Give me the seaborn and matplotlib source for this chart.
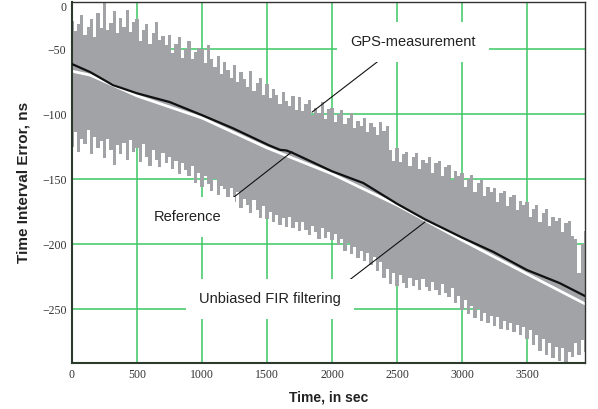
import numpy as np
import matplotlib
matplotlib.use("Agg")
import matplotlib.pyplot as plt
import seaborn as sns

# ---- data ----
# GPS measurement band: spike envelope every 25 s
env_t = np.arange(0, 3951, 25)
gps_upper = [
    -28, -36, -31, -24, -39, -33, -27, -41, -22, -34,
    -14, -35, -30, -21, -38, -26, -33, -20, -37, -29,
    -27, -44, -35, -31, -46, -38, -29, -43, -40, -47,
    -39, -53, -46, -41, -57, -50, -44, -58, -52, -49,
    -50, -61, -47, -58, -64, -55, -69, -60, -66, -72,
    -62, -75, -68, -73, -79, -67, -82, -76, -72, -85,
    -77, -88, -81, -85, -92, -83, -90, -94, -86, -97,
    -87, -98, -92, -89, -101, -95, -99, -91, -104, -96,
    -95, -106, -100, -97, -108, -103, -99, -111, -105, -109,
    -103, -114, -107, -110, -116, -106, -113, -109, -128, -136,
    -126, -137, -131, -129, -140, -133, -130, -142, -135, -138,
    -133, -145, -138, -136, -148, -141, -139, -151, -144, -148,
    -145, -156, -150, -147, -160, -153, -151, -163, -156, -160,
    -157, -168, -161, -159, -171, -164, -162, -174, -167, -170,
    -168, -179, -173, -170, -183, -176, -173, -186, -179, -182,
    -180, -191, -184, -182, -194, -196, -222, -200, -190,
]
gps_lower = [
    -125, -114, -129, -119, -123, -112, -131, -118, -126, -121,
    -134, -119, -128, -139, -124, -131, -122, -135, -120, -129,
    -126, -137, -123, -133, -140, -128, -135, -141, -130, -138,
    -133, -142, -136, -146, -138, -143, -148, -140, -153, -145,
    -156, -148, -154, -159, -150, -162, -155, -158, -166, -157,
    -168, -160, -172, -165, -170, -176, -166, -174, -180, -171,
    -181, -175, -183, -178, -185, -180, -187, -179, -188, -183,
    -190, -183, -189, -193, -186, -191, -196, -188, -195, -191,
    -197, -192, -201, -196, -205, -199, -208, -202, -211, -205,
    -213, -207, -216, -210, -221, -214, -226, -219, -231, -222,
    -232, -224, -230, -234, -226, -232, -228, -235, -227, -233,
    -236, -229, -235, -239, -231, -238, -241, -234, -245, -240,
    -251, -243, -254, -248, -257, -250, -259, -253, -261, -255,
    -263, -256, -265, -259, -266, -261, -268, -262, -270, -264,
    -273, -266, -278, -270, -282, -273, -285, -276, -288, -279,
    -290, -280, -292, -283, -287, -276, -285, -274, -283,
]

# unbiased FIR filtering estimate (black)
fir_t = [0, 140, 315, 500, 750, 1000, 1240, 1515, 1600, 1650, 1700,
         2000, 2240, 2500, 2715, 3000, 3240, 3500, 3750, 3946]
fir_v = [-61.5, -67.7, -77.7, -84, -90.7, -100.8, -111, -124, -127.5, -128, -130,
         -144, -153, -169, -181, -195, -206, -220, -230, -240]

# reference (white)
ref_t = [0, 140, 500, 1000, 1500, 2000, 2500, 3000, 3500, 3946]
ref_v = [-67, -70, -86, -103, -126, -146, -170, -197, -223, -246]

x_ticks = [0, 500, 1000, 1500, 2000, 2500, 3000, 3500]
y_ticks = [-17.5, -50, -100, -150, -200, -250]
y_labels = ["0", "\u221250", "\u2212100", "\u2212150", "\u2212200", "\u2212250"]

# ---- style ----
sns.set_theme(style="white")
plt.rcParams["font.family"] = ["Liberation Sans", "DejaVu Sans"]

grid_col = "#3cc864"
band_col = "#a2a3a7"
serif = ["Liberation Serif", "DejaVu Serif"]

fig = plt.figure(figsize=(5.98, 4.09), dpi=100)
ax = fig.add_axes([0.1204, 0.1125, 0.8579, 0.8825])

# grid lines drawn by hand (no line at the "0" label)
for xv in x_ticks[1:]:
    ax.axvline(xv, color=grid_col, lw=1.1, zorder=0)
for yv in y_ticks[1:]:
    ax.axhline(yv, color=grid_col, lw=1.1, zorder=0)

ax.fill_between(env_t, gps_lower, gps_upper, step="mid", color=band_col, lw=0, zorder=1)
sns.lineplot(x=ref_t, y=ref_v, color="white", lw=2.0, ax=ax, zorder=2)
sns.lineplot(x=fir_t, y=fir_v, color="#111111", lw=1.6, ax=ax, zorder=3)

ax.set_xlim(0, 3946)
ax.set_ylim(-291.5, -13.8)
ax.set_xticks(x_ticks)
ax.set_xticklabels([str(v) for v in x_ticks], family=serif, fontsize=8.5, color="#333333")
ax.set_yticks(y_ticks)
ax.set_yticklabels(y_labels, family=serif, fontsize=8.5, color="#333333")
ax.tick_params(axis="both", length=0, pad=4)

ax.set_xlabel("Time, in sec", fontweight="bold", fontsize=10,
              color="#222222", labelpad=7)
ax.set_ylabel("Time Interval Error, ns", fontweight="bold", fontsize=11,
              color="#222222", labelpad=8)

for side in ["left", "bottom"]:
    ax.spines[side].set_color("#2b3b2b")
    ax.spines[side].set_linewidth(1.5)
for side in ["top", "right"]:
    ax.spines[side].set_color("#333333")
    ax.spines[side].set_linewidth(1.0)

# annotations: leader lines + boxed labels
box = dict(boxstyle="square,pad=0.9", facecolor="white", edgecolor="none")
lbl = dict(fontsize=10.5, color="#222222", ha="center", va="center", bbox=box, zorder=5)
leader = dict(arrowstyle="-", color="#111111", lw=0.8, shrinkA=0, shrinkB=0)

ax.annotate("", xy=(1846, -98.5), xytext=(2385, -57), arrowprops=leader, zorder=4)
ax.text(2623, -44.6, "GPS-measurement", **lbl)

ax.annotate("", xy=(1692, -129), xytext=(1154, -171), arrowprops=leader, zorder=4)
ax.text(892, -179, "Reference", **lbl)

ax.annotate("", xy=(2715, -183), xytext=(2038, -235), arrowprops=leader, zorder=4)
ax.text(1523, -242, "Unbiased FIR filtering", **lbl)

fig.savefig("out.png", dpi=100)
